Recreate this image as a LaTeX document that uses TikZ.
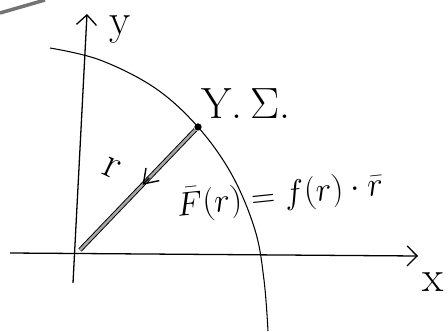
\documentclass[tikz,border=0pt]{standalone}
\usepackage{amsmath,amssymb}
\usetikzlibrary{arrows.meta,calc}

\begin{document}
\begin{tikzpicture}[
      x=0.03cm, y=-0.03cm,
      >={Straight Barb[length=3mm,width=6mm]},
      ax/.style={line width=1.1pt,->},
      arc/.style={line width=0.9pt},
      vec/.style={double=black!35,double distance=2.2pt,line width=0.8pt},
      lbl/.style={font=\Huge,scale=1.5},
      eq/.style={font=\Huge,scale=1.15},
    ]
    \useasboundingbox (0,0) rectangle (448,331);
    % axes
    \coordinate (O) at (80,250);
    \coordinate (xs) at (10,253);
    \coordinate (xe) at (418,256);
    \coordinate (ys) at (73,283);
    \coordinate (ye) at (87,14);
    \draw[ax] (xs) -- (xe);
    \draw[ax] (ys) -- (ye);
    \node[lbl] (xl) at (433,282) {x};
    \node[lbl] (yl) at (120,30) {y};
    % curve
    \draw[arc] plot[smooth,tension=0.6] coordinates
      {(50,48) (100,60) (155,88) (198,127) (232,175) (255,230) (264,280) (268,331)};
    \node[circle,fill,inner sep=2.2pt] (P) at (198,127) {};
    \node[lbl] (PL) at (246,104) {Y.\,$\Sigma$.};
    % vector
    \draw[vec] (P) -- (O);
    \draw[-{Straight Barb[length=4mm,width=5.5mm]},line width=1.2pt,shorten <=2cm] (P) -- ($(P)!0.47!(O)$);
    \node[lbl,rotate=-25] (rl) at (112,168) {r};
    \node[eq,rotate=6] (Fl) at (280,196) {$\bar{F}(r) = f(r)\cdot\bar{r}$};
    % scribble at the edge
    \draw[line width=3pt,black!55] (0,13) -- (45,0);
  \end{tikzpicture}
\end{document}
